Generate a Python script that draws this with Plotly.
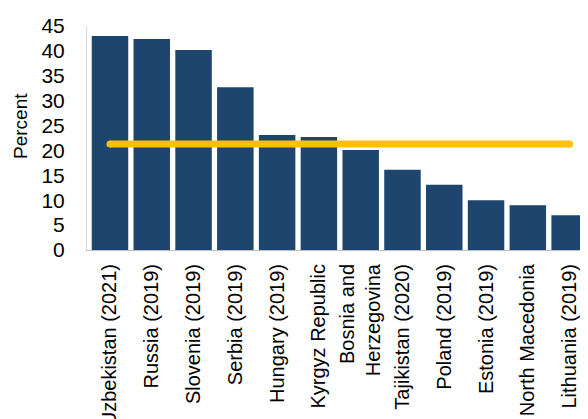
import plotly.graph_objects as go

categories = [
    "Uzbekistan (2021)", "Russia (2019)", "Slovenia (2019)", "Serbia (2019)",
    "Hungary (2019)", "Kyrgyz Republic", "Bosnia and<br>Herzegovina",
    "Tajikistan (2020)", "Poland (2019)", "Estonia (2019)", "North Macedonia",
    "Lithuania (2019)",
]
values = [43.0, 42.4, 40.2, 32.7, 23.1, 22.7, 20.1, 16.1, 13.1, 10.0, 9.0, 7.0]
average = [21.3, 21.3, 21.3, 21.3, 21.3, 21.3, 21.3, 21.3, 21.3, 21.3, 21.3, 21.3]
y_ticks = [0, 5, 10, 15, 20, 25, 30, 35, 40, 45]

FONT = "Liberation Sans, Arial, sans-serif"

fig = go.Figure()
fig.add_trace(go.Bar(
    x=categories, y=values, marker=dict(color="#1D456E", line=dict(width=0)),
    showlegend=False,
))
fig.add_trace(go.Scatter(
    x=categories, y=average, mode="lines",
    line=dict(color="#FFC000", width=7), showlegend=False,
))
fig.add_trace(go.Scatter(
    x=[categories[0], categories[-1]], y=[average[0], average[-1]], mode="markers",
    marker=dict(color="#FFC000", size=7, line=dict(width=0)), showlegend=False,
))

fig.update_layout(
    width=580, height=411,
    margin=dict(l=79, r=0, t=18, b=169, autoexpand=False),
    paper_bgcolor="white", plot_bgcolor="white",
    bargap=0.127,
    font=dict(family=FONT, color="#000000"),
    xaxis=dict(
        type="category", range=[-0.55, 11.44], automargin=False,
        tickangle=-90, tickfont=dict(size=20, family=FONT),
        showline=True, linecolor="#BFBFBF", linewidth=1,
        showgrid=False, ticks="", zeroline=False,
        ticklabelstandoff=5,
    ),
    yaxis=dict(
        range=[0, 45], tickvals=y_ticks, automargin=False,
        tickfont=dict(size=21, family=FONT),
        showline=True, linecolor="#D9D9D9", linewidth=1,
        showgrid=False, ticks="", zeroline=False,
        ticklabelstandoff=17,
    ),
    annotations=[dict(
        text="Percent", textangle=-90, xref="paper", yref="paper",
        x=0, y=0.5, xanchor="center", yanchor="middle", xshift=-67, yshift=12,
        showarrow=False, font=dict(size=19, family=FONT),
    )],
)

fig.write_html("out.html")
